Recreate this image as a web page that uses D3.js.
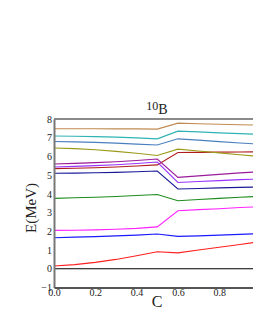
<!DOCTYPE html>
<html>
<head>
<meta charset="utf-8">
<title>10B levels</title>
<script src="https://cdnjs.cloudflare.com/ajax/libs/d3/7.8.5/d3.min.js"></script>
<style>
  body { margin: 0; background: #fff; }
  svg { display: block; }
  text { font-family: "Liberation Serif", "DejaVu Serif", serif; fill: #222; }
</style>
</head>
<body>
<svg id="chart" width="253" height="327"></svg>
<script>
// x values (parameter C)
var cValues = [0, 0.1, 0.2, 0.3, 0.4, 0.5, 0.6, 0.7, 0.8, 0.9, 1.0];

// level energies (MeV), one array per level
var lvlGround = [0, 0, 0, 0, 0, 0, 0, 0, 0, 0, 0];
var lvlRed = [0.15, 0.22, 0.34, 0.5, 0.7, 0.91, 0.85, 1.0, 1.15, 1.3, 1.45];
var lvlBlue = [1.66, 1.69, 1.72, 1.76, 1.80, 1.86, 1.73, 1.76, 1.80, 1.84, 1.88];
var lvlMagenta = [2.05, 2.06, 2.08, 2.11, 2.16, 2.24, 3.10, 3.16, 3.21, 3.27, 3.32];
var lvlGreen = [3.76, 3.79, 3.82, 3.86, 3.91, 3.97, 3.63, 3.70, 3.76, 3.82, 3.87];
var lvlNavy = [5.10, 5.11, 5.13, 5.15, 5.18, 5.22, 4.26, 4.29, 4.32, 4.35, 4.37];
var lvlDarkRed = [5.35, 5.37, 5.40, 5.44, 5.49, 5.55, 6.21, 6.22, 6.23, 6.24, 6.25];
var lvlViolet = [5.44, 5.47, 5.51, 5.56, 5.62, 5.70, 4.61, 4.66, 4.71, 4.76, 4.80];
var lvlPurple = [5.60, 5.63, 5.67, 5.72, 5.78, 5.86, 4.88, 4.96, 5.04, 5.12, 5.19];
var lvlOlive = [6.45, 6.42, 6.36, 6.27, 6.17, 6.05, 6.39, 6.29, 6.19, 6.09, 6.0];
var lvlSteel = [6.80, 6.78, 6.75, 6.71, 6.66, 6.61, 6.94, 6.87, 6.79, 6.72, 6.65];
var lvlCyan = [7.09, 7.08, 7.06, 7.03, 6.99, 6.94, 7.35, 7.31, 7.26, 7.22, 7.18];
var lvlTan = [7.48, 7.48, 7.48, 7.47, 7.47, 7.46, 7.78, 7.75, 7.72, 7.69, 7.67];

var xTicks = [0, 0.2, 0.4, 0.6, 0.8];
var yTicks = [-1, 0, 1, 2, 3, 4, 5, 6, 7, 8];

var levels = [
  { v: lvlGround, color: '#000000' },
  { v: lvlRed, color: '#ff2020' },
  { v: lvlBlue, color: '#1a1aff' },
  { v: lvlMagenta, color: '#ff22ff' },
  { v: lvlGreen, color: '#1e8c1e' },
  { v: lvlNavy, color: '#1a1a99' },
  { v: lvlDarkRed, color: '#b01c1c' },
  { v: lvlViolet, color: '#9933ff' },
  { v: lvlPurple, color: '#9a1a9a' },
  { v: lvlOlive, color: '#9a9a1a' },
  { v: lvlSteel, color: '#4a7fbf' },
  { v: lvlCyan, color: '#2fb3b3' },
  { v: lvlTan, color: '#c08a50' }
];

var svg = d3.select('#chart');
var plotL = 54, plotR = 260.5, plotT = 119, plotB = 287.5;

var x = d3.scaleLinear().domain([0, 1]).range([plotL, plotR]);
var y = d3.scaleLinear().domain([-1, 8]).range([plotB, plotT]);

// lines
var line = d3.line()
  .x(function (d, i) { return x(cValues[i]); })
  .y(function (d) { return y(d); });

svg.append('g').selectAll('path')
  .data(levels)
  .enter().append('path')
  .attr('d', function (d) { return line(d.v); })
  .attr('fill', 'none')
  .attr('stroke', function (d) { return d.color; })
  .attr('stroke-width', 1.1);

// frame: top, left, bottom
svg.append('line')
  .attr('x1', plotL).attr('x2', 253).attr('y1', plotT).attr('y2', plotT)
  .attr('stroke', '#8a8a8a').attr('stroke-width', 2);

var yAxis = d3.axisLeft(y).tickValues(yTicks).tickSize(0).tickPadding(2)
  .tickFormat(d3.format('d'));
var gy = svg.append('g').attr('transform', 'translate(' + plotL + ',0)').call(yAxis);
gy.select('.domain').attr('stroke', '#777').attr('stroke-width', 2);
gy.selectAll('text').style('font-family', '"Liberation Serif", serif').style('font-size', '10px').attr('fill', '#222');

var xAxis = d3.axisBottom(x).tickValues(xTicks).tickSize(0).tickPadding(1)
  .tickFormat(d3.format('.1f'));
var gx = svg.append('g').attr('transform', 'translate(0,' + plotB + ')').call(xAxis);
gx.select('.domain').attr('stroke', '#555').attr('stroke-width', 2);
gx.selectAll('text').style('font-family', '"Liberation Serif", serif').style('font-size', '10px').attr('fill', '#222');

// title 10B
var title = svg.append('text').attr('x', 157).attr('y', 110).attr('text-anchor', 'middle');
title.append('tspan').style('font-size', '12px').text('10');
title.append('tspan').attr('dy', 4).style('font-size', '14px').text('B');

// axis labels
svg.append('text')
  .attr('transform', 'translate(36,208) rotate(-90)')
  .attr('text-anchor', 'middle')
  .style('font-size', '15px')
  .text('E(MeV)');

svg.append('text')
  .attr('x', 157).attr('y', 307)
  .attr('text-anchor', 'middle')
  .style('font-size', '16px')
  .text('C');
</script>
</body>
</html>
